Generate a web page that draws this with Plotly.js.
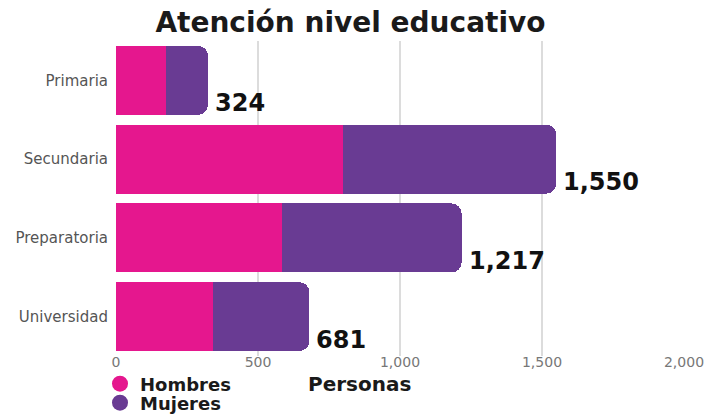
<!DOCTYPE html>
<html>
<head>
<meta charset="utf-8">
<script src="https://cdn.plot.ly/plotly-3.0.1.min.js"></script>
<style>html,body{margin:0;padding:0;background:#fff;}#chart{width:708px;height:415px;}</style>
</head>
<body>
<div id="chart"></div>
<script>
const categories = ["Primaria", "Secundaria", "Preparatoria", "Universidad"];
const hombres = [176, 800, 585, 342];
const mujeres = [148, 750, 632, 339];
const totals = [324, 1550, 1217, 681];
const xTicks = [0, 500, 1000, 1500, 2000];
const xTickLabels = ["0", "500", "1,000", "1,500", "2,000"];

const pink = "#E5178E";
const purple = "#693B93";
const boldFont = "DejaVu Sans, sans-serif";

const traces = [
  {type: "bar", orientation: "h", name: "Hombres", y: categories, x: hombres,
   marker: {color: pink}, showlegend: false},
  {type: "bar", orientation: "h", name: "Mujeres", y: categories, x: mujeres,
   marker: {color: purple}, showlegend: false},
  {type: "scatter", mode: "markers", name: "Hombres", x: [null], y: [null], legend: "legend",
   marker: {color: pink, size: 18, symbol: "circle"}},
  {type: "scatter", mode: "markers", name: "Mujeres", x: [null], y: [null], legend: "legend2",
   marker: {color: purple, size: 18, symbol: "circle"}}
];

const annotations = categories.map((c, i) => ({
  x: totals[i], y: c, xref: "x", yref: "y",
  text: totals[i].toLocaleString("en-US"),
  showarrow: false, xanchor: "left", yanchor: "middle",
  xshift: 5, yshift: -23,
  font: {family: boldFont, size: 24, color: "#111", weight: 700}
}));
annotations.push({
  text: "Personas", xref: "paper", x: (359 - 116) / 568, xanchor: "center",
  yref: "paper", y: (356 - 384) / 315, yanchor: "middle", showarrow: false,
  font: {family: boldFont, size: 20, color: "#1a1a1a", weight: 700}
});

const legendFont = {family: boldFont, size: 18, color: "#1a1a1a", weight: 700};

const layout = {
  width: 708, height: 415,
  margin: {l: 116, r: 24, t: 41, b: 59, autoexpand: false},
  paper_bgcolor: "#fff", plot_bgcolor: "#fff",
  barmode: "stack", bargap: 0.125, barcornerradius: 10,
  title: {text: "Atención nivel educativo", x: 0.495, xanchor: "center",
          yref: "container", y: 1 - 22 / 415, yanchor: "middle",
          font: {family: boldFont, size: 28, color: "#1a1a1a", weight: 700}},
  xaxis: {range: [0, 2000], tickvals: xTicks, ticktext: xTickLabels,
          showgrid: true, gridcolor: "#dcdcdc", gridwidth: 1.5, zeroline: false,
          showline: false, ticks: "", ticklabelstandoff: -4,
          tickfont: {family: "DejaVu Sans, sans-serif", size: 14, color: "#777"},
          automargin: false},
  yaxis: {categoryorder: "array", categoryarray: categories, autorange: "reversed",
          showgrid: false, zeroline: false, ticks: "outside", ticklen: 4, tickcolor: "rgba(0,0,0,0)",
          tickfont: {family: "DejaVu Sans, sans-serif", size: 15, color: "#555"},
          automargin: false},
  showlegend: true,
  legend: {xref: "container", yref: "container", x: 100 / 708, xanchor: "left",
           y: 1 - 384 / 415, yanchor: "middle", font: legendFont, bgcolor: "rgba(0,0,0,0)"},
  legend2: {xref: "container", yref: "container", x: 100 / 708, xanchor: "left",
           y: 1 - 403 / 415, yanchor: "middle", font: legendFont, bgcolor: "rgba(0,0,0,0)"},
  annotations: annotations
};

Plotly.newPlot("chart", traces, layout, {displayModeBar: false, staticPlot: true});
</script>
</body>
</html>
